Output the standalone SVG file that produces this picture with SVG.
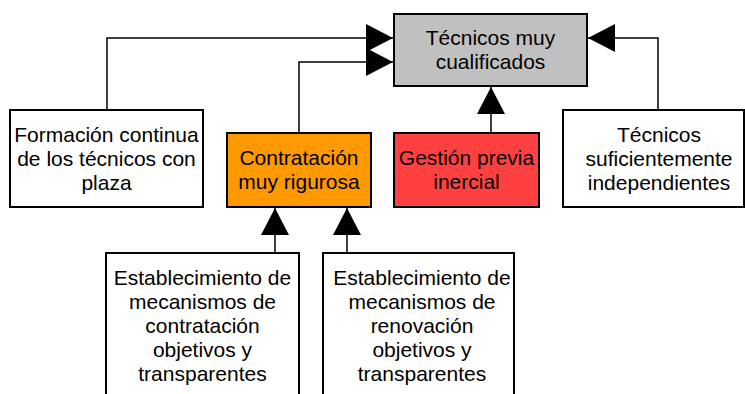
<svg xmlns="http://www.w3.org/2000/svg" width="745" height="394" viewBox="0 0 745 394">
<style>
.box{stroke:#000;stroke-width:2}
.t{font-family:"Liberation Sans",Arial,sans-serif;font-size:21px;fill:#000;text-anchor:middle}
.c{fill:none;stroke:#000;stroke-width:1.5}
</style>
<defs>
<marker id="ah" markerUnits="userSpaceOnUse" markerWidth="28" markerHeight="28" refX="27" refY="14" orient="auto" viewBox="0 0 28 28">
<path d="M0,0 L27,14 L0,28 z" fill="#000"/>
</marker>
</defs>
<rect width="745" height="394" fill="#fff"/>
<g id="connectors">
<path class="c" d="M107,110 V38 H393" marker-end="url(#ah)"/>
<path class="c" d="M299,133 V62 H393" marker-end="url(#ah)"/>
<path class="c" d="M491,133 V87" marker-end="url(#ah)"/>
<path class="c" d="M658,110 V38 H588" marker-end="url(#ah)"/>
<path class="c" d="M275,253 V208" marker-end="url(#ah)"/>
<path class="c" d="M347,253 V208" marker-end="url(#ah)"/>
</g>
<g id="tecnicos-muy-cualificados">
<rect class="box" x="394" y="14" width="193" height="72" fill="#c0c0c0"/>
<text class="t" x="490.5" y="45">Técnicos muy</text>
<text class="t" x="490.5" y="69">cualificados</text>
</g>
<g id="formacion">
<rect class="box" x="10" y="110" width="193" height="97" fill="#fff"/>
<text class="t" x="106.5" y="142">Formación continua</text>
<text class="t" x="106.5" y="166">de los técnicos con</text>
<text class="t" x="106.5" y="190">plaza</text>
</g>
<g id="contratacion">
<rect class="box" x="227" y="133" width="144" height="74" fill="#ff9900"/>
<text class="t" x="299" y="165">Contratación</text>
<text class="t" x="299" y="189">muy rigurosa</text>
</g>
<g id="gestion">
<rect class="box" x="394" y="133" width="145" height="74" fill="#ff4040"/>
<text class="t" x="466.5" y="165">Gestión previa</text>
<text class="t" x="466.5" y="189">inercial</text>
</g>
<g id="independientes">
<rect class="box" x="563" y="110" width="181" height="97" fill="#fff"/>
<text class="t" x="659" y="142">Técnicos</text>
<text class="t" x="659" y="166">suficientemente</text>
<text class="t" x="659" y="190">independientes</text>
</g>
<g id="mecanismos-contratacion">
<rect class="box" x="106" y="253" width="193" height="150" fill="#fff"/>
<text class="t" x="202.5" y="285">Establecimiento de</text>
<text class="t" x="202.5" y="309">mecanismos de</text>
<text class="t" x="202.5" y="333">contratación</text>
<text class="t" x="202.5" y="357">objetivos y</text>
<text class="t" x="202.5" y="381">transparentes</text>
</g>
<g id="mecanismos-renovacion">
<rect class="box" x="323" y="253" width="191" height="150" fill="#fff"/>
<text class="t" x="422" y="285">Establecimiento de</text>
<text class="t" x="422" y="309">mecanismos de</text>
<text class="t" x="422" y="333">renovación</text>
<text class="t" x="422" y="357">objetivos y</text>
<text class="t" x="422" y="381">transparentes</text>
</g>
</svg>
